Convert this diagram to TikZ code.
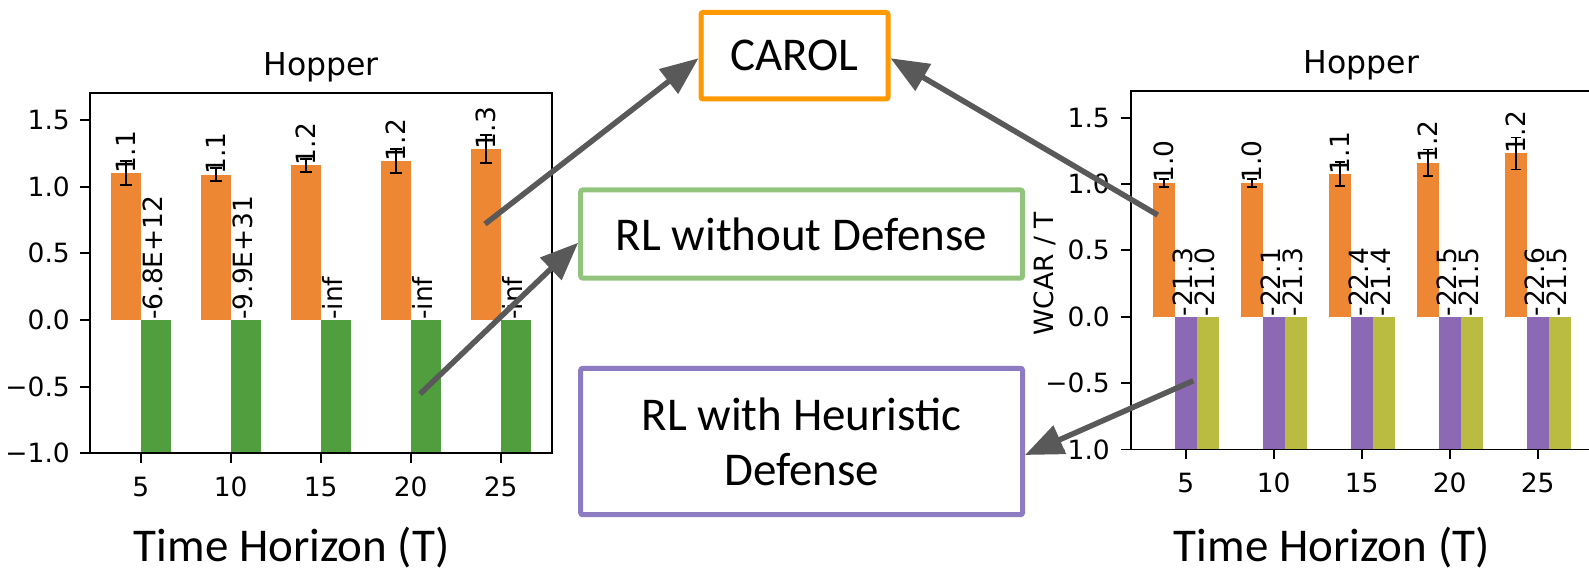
\documentclass[tikz,border=0pt]{standalone}
\usepackage{fontspec}
\setmainfont{Carlito}
\newfontfamily\mplfont{DejaVu Sans}
\usetikzlibrary{arrows.meta}
% typographic minus for axis tick labels
\newcommand\mminus{\char"2212\relax}

\definecolor{barorange}{RGB}{238,135,51}
\definecolor{bargreen}{RGB}{81,158,62}
\definecolor{barpurple}{RGB}{140,104,181}
\definecolor{barolive}{RGB}{186,188,65}
\definecolor{arrowgray}{RGB}{89,89,89}
\definecolor{carolc}{RGB}{255,153,0}
\definecolor{nodefc}{RGB}{147,196,125}
\definecolor{heurc}{RGB}{142,124,195}

\begin{document}
\begin{tikzpicture}[x=1pt,y=-1pt,
  small/.style={font=\mplfont\fontsize{26.5}{31}\selectfont, inner sep=0pt},
  barlbl/.style={small, rotate=90, anchor=west},
  titlelbl/.style={font=\mplfont\fontsize{31.5}{37}\selectfont, inner sep=0pt, anchor=base},
  axisline/.style={line width=1.8pt, black},
  errbar/.style={line width=1.8pt, black},
  box/.style={draw, line width=5pt, rounded corners=2pt, align=center,
              font=\fontsize{47}{55}\selectfont, inner sep=0pt},
  bigtext/.style={font=\fontsize{47}{55}\selectfont, inner sep=0pt, anchor=base},
  conn/.style={draw=arrowgray, line width=5.5pt, -{Triangle[length=38pt,width=30pt]}}]
\useasboundingbox (0,0) rectangle (1589,572);

% ---------- left chart ----------
\begin{scope}[shift={(0,320)}, yscale=-133.3]
  \foreach \i/\h/\e/\lo/\lg in {0/1.10/0.09/1.1/-6.8E+12, 1/1.09/0.05/1.1/-9.9E+31,
      2/1.16/0.05/1.2/-inf, 3/1.19/0.09/1.2/-inf, 4/1.28/0.105/1.3/-inf}{
    \pgfmathsetmacro\t{140.7+90*\i}
    \fill[barorange] ({\t-30},0) rectangle (\t,\h);
    \fill[bargreen] (\t,0) rectangle ({\t+30},-1);
    \draw[errbar] ({\t-15},{\h-\e}) -- ({\t-15},{\h+\e});
    \draw[errbar] ({\t-21},{\h-\e}) -- ({\t-9},{\h-\e});
    \draw[errbar] ({\t-21},{\h+\e}) -- ({\t-9},{\h+\e});
    \node[barlbl] at ({\t-15},\h) {\lo};
    \node[barlbl, yshift=3pt] at ({\t+15},0) {\lg};
  }
  \foreach \v/\l in {1.5/1.5, 1.0/1.0, 0.5/0.5, 0.0/0.0, -0.5/\mminus0.5, -1.0/\mminus1.0}{
    \draw[axisline] (80,\v) -- (90,\v);
    \node[small, anchor=east] at (70,\v) {\l};
  }
  \draw[axisline] (90,-1) rectangle (552,1.70);
\end{scope}
\foreach \i/\l in {0/5, 1/10, 2/15, 3/20, 4/25}{
  \pgfmathsetmacro\t{140.7+90*\i}
  \draw[axisline] (\t,453.3) -- (\t,463.3);
  \node[small, anchor=base] at (\t,496.7) {\l};
}
\node[titlelbl] (ltitle) at (321,76) {Hopper};
\node[bigtext] (lxlabel) at (291.7,561.7) {Time Horizon (T)};

% ---------- right chart ----------
\begin{scope}[shift={(0,316.7)}, yscale=-132.7]
  \foreach \i/\h/\e/\lo/\lp/\lv in {0/1.01/0.03/1.0/-21.3/-21.0, 1/1.01/0.03/1.0/-22.1/-21.3,
      2/1.073/0.09/1.1/-22.4/-21.4, 3/1.16/0.10/1.2/-22.5/-21.5, 4/1.23/0.12/1.2/-22.6/-21.5}{
    \pgfmathsetmacro\t{1185.7+88*\i}
    \fill[barorange] ({\t-33},0) rectangle ({\t-11},\h);
    \fill[barpurple] ({\t-11},0) rectangle ({\t+11},-1);
    \fill[barolive] ({\t+11},0) rectangle ({\t+33},-1);
    \draw[errbar] ({\t-22},{\h-\e}) -- ({\t-22},{\h+\e});
    \draw[errbar] ({\t-27},{\h-\e}) -- ({\t-17},{\h-\e});
    \draw[errbar] ({\t-27},{\h+\e}) -- ({\t-17},{\h+\e});
    \node[barlbl] at ({\t-22},\h) {\lo};
    \node[barlbl, yshift=3pt] at (\t,0) {\lp};
    \node[barlbl, yshift=3pt] at ({\t+22},0) {\lv};
  }
  \foreach \v/\l in {1.5/1.5, 1.0/1.0, 0.5/0.5, 0.0/0.0, -0.5/\mminus0.5, -1.0/\mminus1.0}{
    \draw[axisline] (1121,\v) -- (1131,\v);
    \node[small, anchor=east] at (1110,\v) {\l};
  }
  \draw[axisline] (1589,1.70) -- (1131,1.70) -- (1131,-1) -- (1589,-1);
\end{scope}
\foreach \i/\l in {0/5, 1/10, 2/15, 3/20, 4/25}{
  \pgfmathsetmacro\t{1185.7+88*\i}
  \draw[axisline] (\t,449.3) -- (\t,459.3);
  \node[small, anchor=base] at (\t,492.7) {\l};
}
\node[small, rotate=90] (rylabel) at (1045,274) {WCAR / T};
\node[titlelbl] (rtitle) at (1361.3,74) {Hopper};
\node[bigtext] (rxlabel) at (1331.7,561.7) {Time Horizon (T)};

% ---------- method boxes ----------
\node[box, draw=carolc, minimum width=187pt, minimum height=86.5pt] (carol) at (794.5,55.75) {CAROL};
\node[box, draw=nodefc, minimum width=441.8pt, minimum height=88pt] (nodef) at (801.6,234) {RL without Defense};
\node[box, draw=heurc, minimum width=441.8pt, minimum height=146.4pt] (heur) at (801.6,441.5) {RL with Heuristic\\Defense};

% ---------- connectors ----------
\coordinate (a1) at (485,224);
\coordinate (a2) at (1157.7,215);
\coordinate (a3) at (420,394);
\coordinate (a4) at (1193.3,380.7);
\draw[conn] (a1) -- ([yshift=-2.5pt]carol.west);
\draw[conn] (a2) -- ([yshift=-2.5pt]carol.east);
\draw[conn] (a3) -- ([yshift=-8.7pt]nodef.west);
\draw[conn] (a4) -- ([yshift=-13.5pt]heur.east);
\end{tikzpicture}
\end{document}
